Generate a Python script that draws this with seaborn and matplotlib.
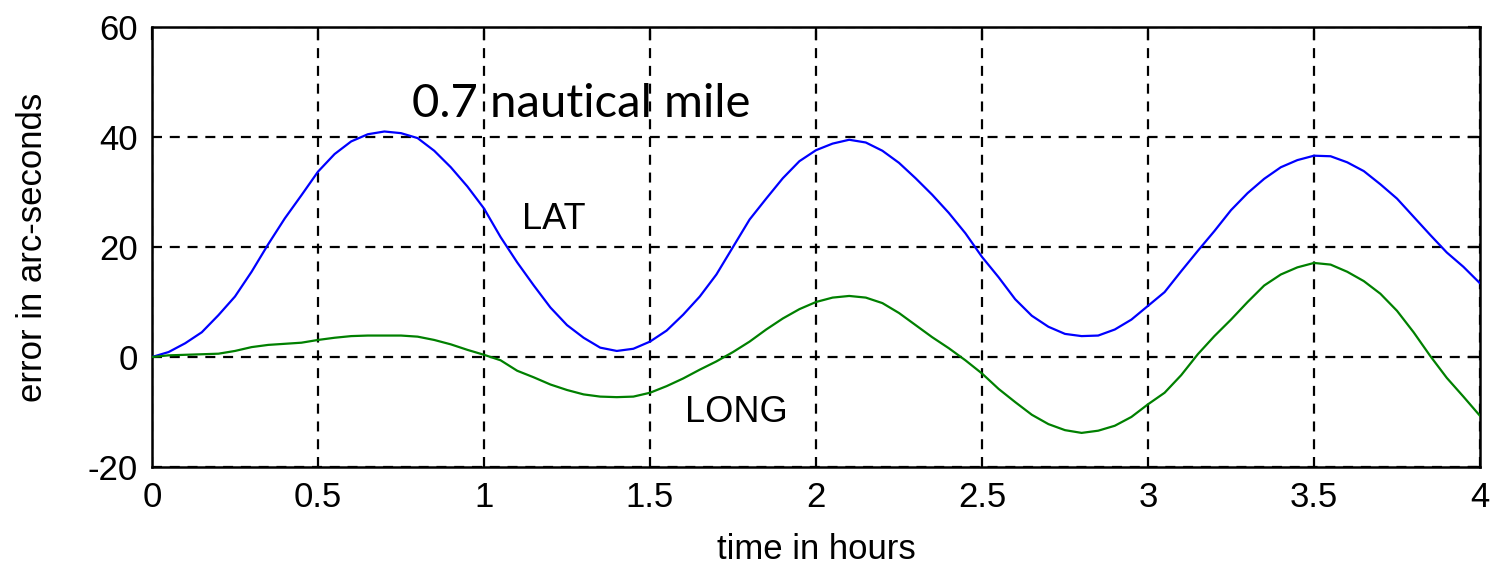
import numpy as np
import pandas as pd
import matplotlib
matplotlib.use("Agg")
import matplotlib.pyplot as plt
import seaborn as sns

# time in hours (0.05 h steps)
time_h = [round(0.05 * i, 2) for i in range(81)]

lat_err = [0.0, 0.9, 2.5, 4.5, 7.6, 11.0, 15.5, 20.5, 25.2, 29.4,
           33.7, 36.9, 39.2, 40.5, 41.0, 40.7, 39.8, 37.5, 34.5, 31.0,
           27.0, 21.8, 17.2, 13.0, 9.0, 5.8, 3.5, 1.7, 1.1, 1.5,
           2.8, 4.8, 7.7, 11.0, 15.0, 20.0, 25.0, 28.8, 32.5, 35.6,
           37.6, 38.8, 39.5, 39.0, 37.5, 35.3, 32.5, 29.5, 26.2, 22.5,
           18.2, 14.5, 10.5, 7.5, 5.5, 4.2, 3.8, 3.9, 5.0, 6.8,
           9.3, 11.8, 15.6, 19.3, 22.9, 26.7, 29.8, 32.4, 34.5, 35.8,
           36.6, 36.5, 35.4, 33.8, 31.4, 28.8, 25.5, 22.2, 19.0, 16.4,
           13.4]

long_err = [0.0, 0.3, 0.4, 0.5, 0.6, 1.1, 1.8, 2.2, 2.4, 2.6,
            3.1, 3.5, 3.8, 3.9, 3.9, 3.9, 3.7, 3.1, 2.3, 1.3,
            0.4, -0.6, -2.5, -3.7, -5.0, -6.0, -6.8, -7.2, -7.3, -7.2,
            -6.5, -5.3, -3.9, -2.3, -0.8, 0.9, 2.8, 5.0, 7.0, 8.7,
            10.0, 10.8, 11.1, 10.8, 9.8, 8.0, 5.8, 3.6, 1.6, -0.6,
            -3.0, -5.8, -8.2, -10.5, -12.2, -13.3, -13.8, -13.4, -12.5, -10.9,
            -8.6, -6.5, -3.3, 0.5, 3.8, 6.8, 10.0, 13.0, 15.0, 16.3,
            17.1, 16.8, 15.5, 13.8, 11.5, 8.4, 4.5, 0.2, -3.8, -7.2,
            -10.7]

x_ticks = [0, 0.5, 1, 1.5, 2, 2.5, 3, 3.5, 4]
x_tick_labels = ["0", "0.5", "1", "1.5", "2", "2.5", "3", "3.5", "4"]
y_ticks = [-20, 0, 20, 40, 60]
y_tick_labels = ["-20", "0", "20", "40", "60"]

df = pd.DataFrame({
    "time": time_h * 2,
    "error": lat_err + long_err,
    "series": ["LAT"] * len(time_h) + ["LONG"] * len(time_h),
})

sns.set_style("white")
plt.rcParams["font.family"] = ["Liberation Sans", "DejaVu Sans"]
plt.rcParams["text.color"] = "black"
plt.rcParams["axes.labelcolor"] = "black"

fig = plt.figure(figsize=(15.01, 5.79), dpi=100)
ax = fig.add_axes([152 / 1501, 112 / 579, (1480 - 152) / 1501, (467 - 27) / 579])

sns.lineplot(data=df, x="time", y="error", hue="series",
             palette={"LAT": "#0000ff", "LONG": "#008000"},
             linewidth=1.6, legend=False, ax=ax, zorder=3)

ax.set_xlim(0, 4)
ax.set_ylim(-20, 60)
ax.set_xticks(x_ticks)
ax.set_xticklabels(x_tick_labels)
ax.set_yticks(y_ticks)
ax.set_yticklabels(y_tick_labels)
ax.grid(True, color="black", linestyle=(0, (4.5, 3.5)), linewidth=1.6)
ax.tick_params(axis="both", direction="in", length=9, width=1.6,
               labelsize=25, color="black", labelcolor="black",
               top=True, right=True, pad=10)
for s in ax.spines.values():
    s.set_visible(True)
    s.set_color("black")
    s.set_linewidth(1.8)

ax.set_xlabel("time in hours", fontsize=25, labelpad=14, color="black")
ax.set_ylabel("error in arc-seconds", fontsize=25, labelpad=28, color="black")

ax.text(0.783, 43.6, "0.7 nautical mile", fontsize=34, family=["Lato", "DejaVu Sans"],
        ha="left", va="baseline", zorder=4, color="black")
ax.text(1.21, 25.0, "LAT", fontsize=26, ha="center", va="center", zorder=4, color="black")
ax.text(1.76, -10.0, "LONG", fontsize=26, ha="center", va="center", zorder=4, color="black")

fig.savefig("out.png", dpi=100)
